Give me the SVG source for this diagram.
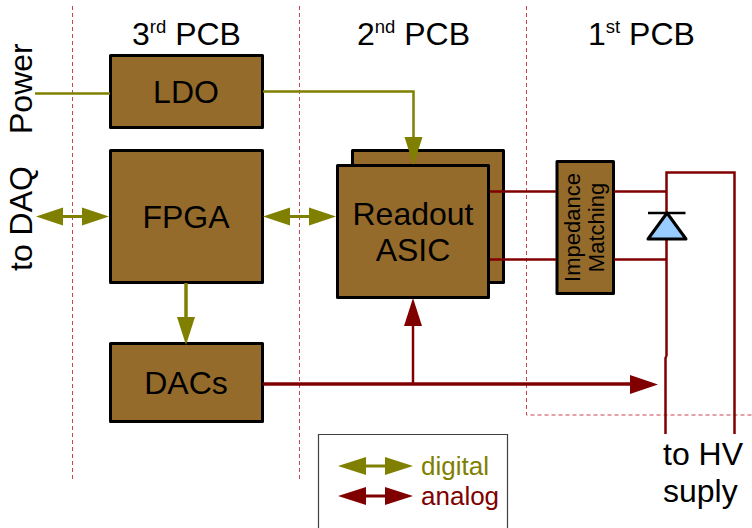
<svg xmlns="http://www.w3.org/2000/svg" width="752" height="528" viewBox="0 0 752 528">
<style>
text{font-family:"Liberation Sans",Arial,sans-serif;fill:#000}
.box{fill:#956b2c;stroke:#000;stroke-width:3;stroke-linejoin:round}
.dash{fill:none;stroke:#c8434f;stroke-width:1;stroke-dasharray:4 3}
.dig{fill:none;stroke:#808000}
.ana{fill:none;stroke:#800000}
.hd{fill:#808000}
.ha{fill:#800000}
.t30{font-size:32px;text-anchor:middle}
</style>
<g id="boundaries">
<path class="dash" d="M72.500 6V480M299.500 6V480M526.500 6V415H752"/>
</g>
<g id="node-ldo"><rect class="box" x="110.500" y="55.500" width="152" height="72"/><text class="t30" x="186" y="103">LDO</text></g>
<g id="node-fpga"><rect class="box" x="110.500" y="150.500" width="152" height="132"/><text class="t30" x="186" y="228">FPGA</text></g>
<g id="node-dacs"><rect class="box" x="110.500" y="343.500" width="152" height="78"/><text class="t30" x="186" y="394">DACs</text></g>
<g id="node-asic-back"><rect class="box" x="352.500" y="150.500" width="151" height="132"/></g>
<g id="node-asic"><rect class="box" x="337.500" y="165.500" width="151" height="132"/><text class="t30" x="413" y="225">Readout</text><text class="t30" x="413" y="261">ASIC</text></g>
<g id="node-impedance"><rect class="box" x="557" y="161.500" width="56.500" height="132"/><text transform="translate(580 227.500) rotate(-90)" font-size="22" text-anchor="middle">Impedance</text><text transform="translate(604 227.500) rotate(-90)" font-size="22" text-anchor="middle">Matching</text></g>
<g id="connectors">
<path class="dig" stroke-width="2.500" d="M35 93.500H110"/>
<path class="dig" stroke-width="2.500" d="M263 91.500H413.500V140"/>
<path class="hd" d="M404.500 137H422.500L413.500 165Z"/>
<path class="dig" stroke-width="3" d="M60 216.500H95"/>
<path class="hd" d="M36 216.500L63 207.500V225.500ZM109 216.500L82 207.500V225.500Z"/>
<path class="dig" stroke-width="3" d="M285 216.500H320"/>
<path class="hd" d="M263 216.500L290 207.500V225.500ZM336 216.500L309 207.500V225.500Z"/>
<path class="dig" stroke-width="3.500" d="M186 283V320"/>
<path class="hd" d="M177 317H195L186 345Z"/>
<path class="ana" stroke-width="3.500" d="M263 384H635"/>
<path class="ha" d="M630 375L658 384.500L630 394Z"/>
<path class="ana" stroke-width="2.500" d="M413 384V320"/>
<path class="ha" d="M404 326H422L413 298Z"/>
<path class="ana" stroke-width="2.500" d="M490 191.500H556M490 259.500H556M614 191.500H666M614 259.500H666"/>
<path class="ana" stroke-width="2.500" d="M666.500 356V172.500H734.500V434"/>
<path class="ana" stroke-width="2.500" d="M666.500 356L665.500 358V434"/>
</g>
<g id="node-diode">
<path d="M648 239L667 213L686 239Z" fill="#99ccff" stroke="#000" stroke-width="3" stroke-linejoin="round"/>
<path d="M648 213H685.500" stroke="#000" stroke-width="2.500" fill="none"/>
</g>
<g id="labels">
<text x="132" y="45" font-size="32">3<tspan font-size="18.500" dy="-12">rd</tspan><tspan dy="12"> PCB</tspan></text>
<text x="357" y="45" font-size="32">2<tspan font-size="18.500" dy="-12">nd</tspan><tspan dy="12"> PCB</tspan></text>
<text x="588" y="45" font-size="32">1<tspan font-size="18.500" dy="-12">st</tspan><tspan dy="12"> PCB</tspan></text>
<text transform="translate(32 134) rotate(-90)" font-size="32">Power</text>
<text transform="translate(32 271) rotate(-90)" font-size="32">to DAQ</text>
<text x="663" y="465" font-size="32">to HV</text>
<text x="663" y="502" font-size="32">suply</text>
</g>
<g id="legend">
<path d="M318.500 528V434.500H507.500V528" fill="none" stroke="#404040" stroke-width="1.200"/>
<path class="dig" stroke-width="3" d="M360 466H390"/>
<path class="hd" d="M338 466L366 457V475ZM413 466L385 457V475Z"/>
<path class="ana" stroke-width="3" d="M360 496H390"/>
<path class="ha" d="M338 496L366 487V505ZM413 496L385 487V505Z"/>
<text x="421" y="475" font-size="26" style="fill:#808000">digital</text>
<text x="421" y="505" font-size="26" style="fill:#800000">analog</text>
</g>
</svg>
